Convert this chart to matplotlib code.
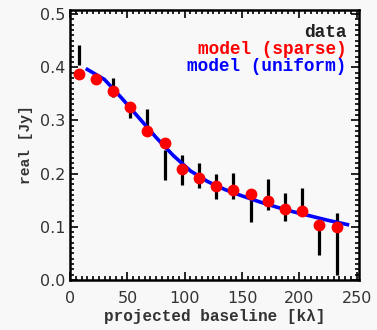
import numpy as np
import matplotlib
matplotlib.use('Agg')
import matplotlib.pyplot as plt
from matplotlib.ticker import MultipleLocator

# Data
baseline = [7.5, 22.5, 37.5, 52.5, 67.5, 82.5, 97.5, 112.5, 127.5, 142.5,
            157.5, 172.5, 187.5, 202.5, 217.5, 232.5]
sparse = [0.388, 0.378, 0.356, 0.325, 0.280, 0.258, 0.208, 0.191, 0.177,
          0.170, 0.161, 0.148, 0.134, 0.130, 0.103, 0.100]
data_lo = [0.405, 0.370, 0.345, 0.305, 0.270, 0.187, 0.178, 0.172, 0.152,
           0.152, 0.108, 0.132, 0.110, 0.125, 0.047, 0.010]
data_hi = [0.442, 0.385, 0.380, 0.330, 0.322, 0.245, 0.235, 0.220, 0.200,
           0.202, 0.165, 0.190, 0.163, 0.172, 0.105, 0.125]
uni_x = [15, 30, 45, 60, 75, 90, 105, 120, 135, 150, 165, 180, 195, 210, 225, 242]
uni_y = [0.396, 0.377, 0.342, 0.305, 0.268, 0.234, 0.205, 0.185, 0.170,
         0.158, 0.147, 0.137, 0.128, 0.120, 0.112, 0.104]

mono = 'Liberation Mono'

fig = plt.figure(figsize=(3.77, 3.30), dpi=100, facecolor='#f8f8f8')
ax = fig.add_axes([0.186, 0.152, 0.766, 0.818])
ax.set_facecolor('#f8f8f8')

ax.vlines(baseline, data_lo, data_hi, color='black', lw=2.3, zorder=2)
ax.plot(uni_x, uni_y, color='#0000ff', lw=2.6, zorder=3)
ax.plot(baseline, sparse, 'o', color='#ff0000', ms=8.5, mec='none', zorder=4)

ax.set_xlim(0, 252)
ax.set_ylim(0, 0.508)
ax.xaxis.set_major_locator(MultipleLocator(50))
ax.xaxis.set_minor_locator(MultipleLocator(5))
ax.yaxis.set_major_locator(MultipleLocator(0.1))
ax.yaxis.set_minor_locator(MultipleLocator(0.01))
ax.tick_params(which='both', direction='in', top=True, right=True,
               color='black', width=1.2, labelsize=11.5, labelcolor='#333333')
ax.tick_params(which='major', length=6)
ax.tick_params(which='minor', length=3)
ax.tick_params(axis='x', which='major', pad=8)
ax.yaxis.set_major_formatter(plt.FuncFormatter(lambda v, p: f'{v:.1f}'))
for s in ax.spines.values():
    s.set_linewidth(1.8)

ax.set_xlabel('projected baseline [k\u03bb]', family=mono, fontweight='bold',
              fontsize=11.5, color='#333333', labelpad=2)
ax.set_ylabel('real [Jy]', family=mono, fontweight='bold',
              fontsize=10.5, color='#333333', labelpad=5)

ax.text(0.958, 0.918, 'data', transform=ax.transAxes, ha='right', va='center',
        family=mono, fontweight='bold', fontsize=12.8, color='#222222')
ax.text(0.958, 0.855, 'model (sparse)', transform=ax.transAxes, ha='right',
        va='center', family=mono, fontweight='bold', fontsize=12.8, color='#ff0000')
ax.text(0.958, 0.789, 'model (uniform)', transform=ax.transAxes, ha='right',
        va='center', family=mono, fontweight='bold', fontsize=12.8, color='#0000ff')

fig.savefig('out.png', dpi=100, facecolor=fig.get_facecolor())
